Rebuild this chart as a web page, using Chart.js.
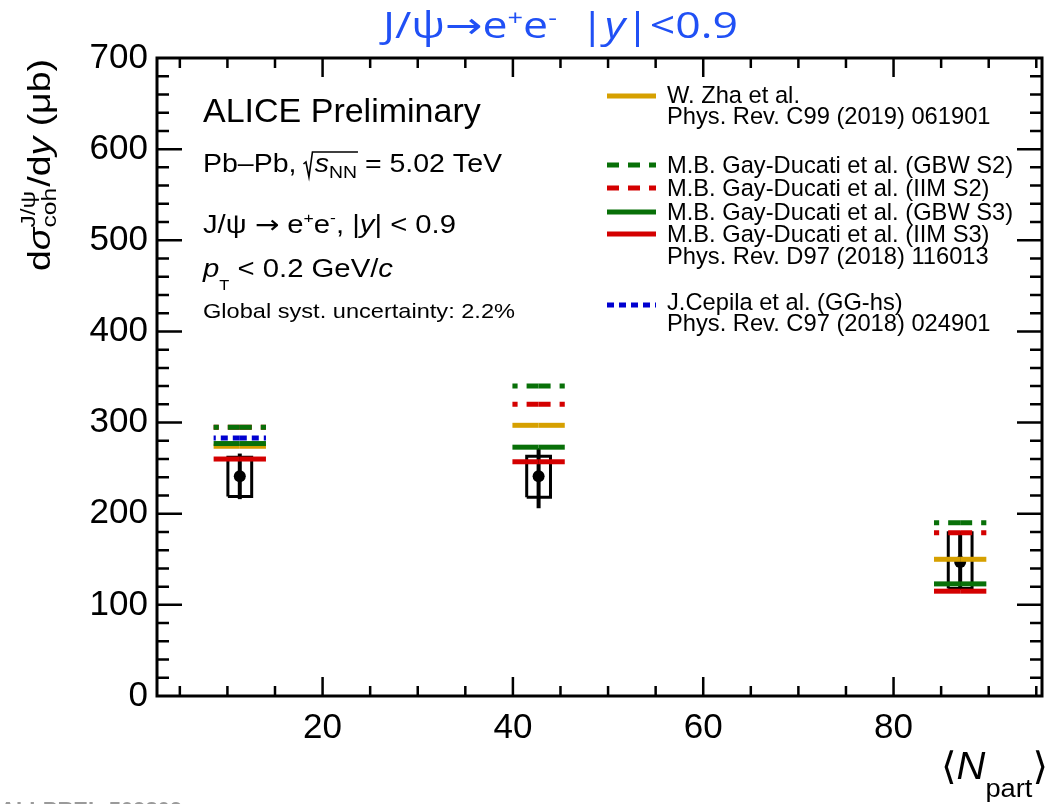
<!DOCTYPE html>
<html>
<head>
<meta charset="utf-8">
<script src="https://cdn.jsdelivr.net/npm/chart.js@4.4.1/dist/chart.umd.min.js"></script>
<style>
  html, body { margin: 0; padding: 0; background: #fff; }
  #wrap { width: 1048px; height: 804px; }
</style>
</head>
<body>
<div id="wrap"><canvas id="chart" width="1048" height="804"></canvas></div>
<script>
// Coherent J/psi cross section vs <Npart>, ALICE Preliminary

// Measured points
const nPart = [11.3, 42.7, 87.0];
const xsec = [241, 241, 147];
const statLo = [216, 206, 118];
const statHi = [266, 272, 179];
const systLo = [219, 218, 118];
const systHi = [262, 263, 179];

// Model predictions (null = not shown)
const zhaModel = [274, 297, 150];
const gbwS2 = [295, 340, 190];
const iimS2 = [295, 320, 179];
const gbwS3 = [277, 273, 123];
const iimS3 = [260, 257, 115];
const ggHs = [283, null, null];

// Axis ticks
const xTicks = [20, 40, 60, 80];
const yTicks = [0, 100, 200, 300, 400, 500, 600, 700];

const FONT = '"Liberation Sans", Arial, Helvetica, sans-serif';
const GOLD = '#d6a000';
const GREEN = '#087008';
const RED = '#d40000';
const BLUE = '#0000d0';
const DASH = [12, 9];
const DOT = [7, 5];

const lineHalf = 2.75;  // half length of model lines, in Npart units
const boxHalf = 1.25;   // half width of syst. boxes

const models = [
    { vals: zhaModel, color: GOLD, dash: [], order: 20 },
    { vals: iimS2, color: RED, dash: DASH, order: 19 },
    { vals: gbwS2, color: GREEN, dash: DASH, order: 18 },
    { vals: iimS3, color: RED, dash: [], order: 17 },
    { vals: gbwS3, color: GREEN, dash: [], order: 16 },
    { vals: ggHs, color: BLUE, dash: DOT, order: 15 }
];

const datasets = [];

// syst boxes + stat bars (drawn below the models)
nPart.forEach((x, i) => {
    datasets.push({
        data: [
            { x: x - boxHalf, y: systLo[i] }, { x: x + boxHalf, y: systLo[i] },
            { x: x + boxHalf, y: systHi[i] }, { x: x - boxHalf, y: systHi[i] },
            { x: x - boxHalf, y: systLo[i] }
        ],
        showLine: true, borderColor: '#000', borderWidth: 3, pointRadius: 0,
        borderJoinStyle: 'miter', order: 40
    });
    datasets.push({
        data: [{ x: x, y: statLo[i] }, { x: x, y: statHi[i] }],
        showLine: true, borderColor: '#000', borderWidth: 4, pointRadius: 0,
        borderCapStyle: 'butt', order: 39
    });
});
datasets.push({
    data: nPart.map((x, i) => ({ x: x, y: xsec[i] })),
    showLine: false, pointRadius: 6, pointBackgroundColor: '#000',
    pointBorderWidth: 0, order: 38
});

// model lines, each drawn as two halves going out from the centre
models.forEach(m => {
    m.vals.forEach((v, i) => {
        if (v === null) return;
        [-1, 1].forEach(side => {
            datasets.push({
                data: [{ x: nPart[i], y: v }, { x: nPart[i] + side * lineHalf, y: v }],
                showLine: true, borderColor: m.color, borderWidth: 5,
                borderDash: m.dash, borderCapStyle: 'butt', pointRadius: 0,
                order: m.order
            });
        });
    });
});

// rich text helper: parts = [{t, s, i, dy}] or stacked {sup, sub, s, up, dn}
function fontOf(p) {
    return (p.b ? 'bold ' : '') + (p.i ? 'italic ' : '') + p.s + 'px ' + (p.f || FONT);
}
function partWidth(ctx, p) {
    ctx.font = fontOf(p);
    if (p.sup !== undefined) {
        return Math.max(ctx.measureText(p.sup).width, ctx.measureText(p.sub).width) + (p.gap || 0);
    }
    return ctx.measureText(p.t).width + (p.gap || 0);
}
function richWidth(ctx, parts) {
    return parts.reduce((w, p) => w + partWidth(ctx, p), 0);
}
function drawRich(ctx, x, y, parts) {
    let cx = x;
    const marks = [];
    parts.forEach(p => {
        const w = partWidth(ctx, p);
        ctx.font = fontOf(p);
        if (p.sup !== undefined) {
            ctx.fillText(p.sup, cx, y + p.up);
            ctx.fillText(p.sub, cx, y + p.dn);
        } else {
            ctx.fillText(p.t, cx, y + (p.dy || 0));
        }
        marks.push(cx);
        cx += w;
    });
    marks.push(cx);
    return marks;
}
// draw a line of rich text stretched to a given width
function drawFit(ctx, x, y, width, parts) {
    const w = richWidth(ctx, parts);
    const k = width / w;
    ctx.save();
    ctx.translate(x, y);
    ctx.scale(k, 1);
    const marks = drawRich(ctx, 0, 0, parts);
    ctx.restore();
    return marks.map(m => x + m * k);
}

const legendLines = [
    { y: 96, color: GOLD, dash: [] },
    { y: 165, color: GREEN, dash: DASH },
    { y: 188, color: RED, dash: DASH },
    { y: 212, color: GREEN, dash: [] },
    { y: 234, color: RED, dash: [] },
    { y: 305, color: BLUE, dash: DOT }
];
const legendTexts = [
    { t: 'W. Zha et al.', y: 103 },
    { t: 'Phys. Rev. C99 (2019) 061901', y: 124 },
    { t: 'M.B. Gay-Ducati et al. (GBW S2)', y: 173 },
    { t: 'M.B. Gay-Ducati et al. (IIM S2)', y: 196 },
    { t: 'M.B. Gay-Ducati et al. (GBW S3)', y: 220 },
    { t: 'M.B. Gay-Ducati et al. (IIM S3)', y: 242 },
    { t: 'Phys. Rev. D97 (2018) 116013', y: 264 },
    { t: 'J.Cepila et al. (GG-hs)', y: 310 },
    { t: 'Phys. Rev. C97 (2018) 024901', y: 331 }
];

const framePlugin = {
    id: 'frame',
    afterDatasetsDraw(chart) {
        const { ctx, chartArea: a, scales: { x, y } } = chart;
        ctx.save();
        ctx.strokeStyle = '#000';
        ctx.lineWidth = 2.5;
        ctx.beginPath();
        for (let v = 5; v < x.max; v += 5) {
            const px = x.getPixelForValue(v);
            const len = v % 20 === 0 ? 19 : 10;
            ctx.moveTo(px, a.bottom); ctx.lineTo(px, a.bottom - len);
            ctx.moveTo(px, a.top); ctx.lineTo(px, a.top + len);
        }
        for (let v = 20; v < y.max; v += 20) {
            const py = y.getPixelForValue(v);
            const len = v % 100 === 0 ? 25 : 12;
            ctx.moveTo(a.left, py); ctx.lineTo(a.left + len, py);
            ctx.moveTo(a.right, py); ctx.lineTo(a.right - len, py);
        }
        ctx.stroke();
        ctx.lineWidth = 3;
        ctx.strokeRect(a.left, a.top, a.right - a.left, a.bottom - a.top);
        ctx.restore();
    }
};

const textPlugin = {
    id: 'texts',
    afterDraw(chart) {
        const ctx = chart.ctx;
        ctx.save();
        ctx.textBaseline = 'alphabetic';
        ctx.textAlign = 'left';

        // title
        ctx.fillStyle = '#2050f5';
        const TF = '"Open Sans", "Noto Sans", sans-serif';
        drawFit(ctx, 383, 38, 355, [
            { t: 'J/ψ', s: 36, f: TF },
            { t: '→', s: 36, f: '"DejaVu Sans", sans-serif' },
            { t: 'e', s: 36, f: TF },
            { t: '+', s: 22, f: TF, dy: -13 },
            { t: 'e', s: 36, f: TF },
            { t: '-', s: 22, f: TF, dy: -13 },
            { t: '  |', s: 36, f: TF },
            { t: 'y', s: 36, f: TF, i: true },
            { t: '|<0.9', s: 36, f: TF }
        ]);

        ctx.fillStyle = '#000';

        // y axis title
        const ylab = [
            { t: 'd', s: 32 },
            { t: 'σ', s: 32, i: true },
            { sup: 'J/ψ', sub: 'coh', s: 21, up: -15, dn: 6, gap: 1 },
            { t: '/d', s: 32 },
            { t: 'y', s: 32, i: true },
            { t: ' (μb)', s: 32 }
        ];
        const yw = richWidth(ctx, ylab);
        ctx.save();
        ctx.translate(50, 165);
        ctx.rotate(-Math.PI / 2);
        ctx.scale(212 / yw, 1);
        drawRich(ctx, -yw / 2, 0, ylab);
        ctx.restore();

        // x axis title
        drawFit(ctx, 941, 779, 107, [
            { t: '⟨', s: 38, f: '"DejaVu Sans", sans-serif' },
            { t: 'N', s: 38, i: true },
            { t: 'part', s: 26, dy: 18 },
            { t: '⟩', s: 38, f: '"DejaVu Sans", sans-serif' }
        ]);

        // ALICE labels
        drawRich(ctx, 203, 122, [{ t: 'ALICE Preliminary', s: 34 }]);
        const m = drawFit(ctx, 203, 172, 299, [
            { t: 'Pb–Pb, ', s: 25 },
            { t: '', s: 25, gap: 9 },
            { t: 's', s: 25, i: true },
            { t: 'NN', s: 17, dy: 6 },
            { t: ' = 5.02 TeV', s: 25 }
        ]);
        // radical sign over s_NN
        const rx = m[1];
        ctx.strokeStyle = '#000';
        ctx.lineWidth = 1.6;
        ctx.beginPath();
        ctx.moveTo(rx - 1, 164);
        ctx.lineTo(rx + 1.5, 162);
        ctx.lineTo(rx + 4.5, 177);
        ctx.lineTo(rx + 8, 152);
        ctx.lineTo(m[4] + 1, 152);
        ctx.stroke();

        drawFit(ctx, 203, 233, 253, [
            { t: 'J/ψ ', s: 25 },
            { t: '→', s: 25, f: '"DejaVu Sans", sans-serif' },
            { t: ' e', s: 25 },
            { t: '+', s: 15, dy: -10 },
            { t: 'e', s: 25 },
            { t: '-', s: 15, dy: -10 },
            { t: ', |', s: 25 },
            { t: 'y', s: 25, i: true },
            { t: '| < 0.9', s: 25 }
        ]);
        drawFit(ctx, 203, 277, 190, [
            { t: 'p', s: 25, i: true },
            { t: 'T', s: 14, dy: 13 },
            { t: ' < 0.2 GeV/', s: 25 },
            { t: 'c', s: 25, i: true }
        ]);
        drawFit(ctx, 203, 318, 312, [{ t: 'Global syst. uncertainty: 2.2%', s: 21 }]);

        // legend
        ctx.lineCap = 'butt';
        legendLines.forEach(l => {
            ctx.strokeStyle = l.color;
            ctx.lineWidth = 5;
            ctx.setLineDash(l.dash);
            ctx.beginPath();
            ctx.moveTo(607, l.y);
            ctx.lineTo(656, l.y);
            ctx.stroke();
        });
        ctx.setLineDash([]);
        ctx.font = '23.7px ' + FONT;
        legendTexts.forEach(l => ctx.fillText(l.t, 667, l.y));

        // preliminary figure id, cut at the bottom
        ctx.fillStyle = '#9a9a9a';
        ctx.font = 'bold 22px ' + FONT;
        ctx.textBaseline = 'top';
        ctx.fillText('ALI-PREL-509809', 0, 800);
        ctx.restore();
    }
};

new Chart(document.getElementById('chart'), {
    type: 'scatter',
    data: { datasets: datasets },
    options: {
        responsive: false,
        animation: false,
        devicePixelRatio: 1,
        layout: { padding: { top: 58, right: 3, left: 0, bottom: 0 } },
        plugins: { legend: { display: false }, tooltip: { enabled: false } },
        scales: {
            x: {
                type: 'linear', min: 2.6, max: 95.6,
                grid: { display: false }, border: { display: false },
                ticks: { color: '#000', font: { family: FONT, size: 35 }, padding: 3, maxRotation: 0 },
                afterBuildTicks: s => { s.ticks = xTicks.map(v => ({ value: v })); },
                afterFit: s => { s.height = 108; }
            },
            y: {
                type: 'linear', min: 0, max: 700,
                grid: { display: false }, border: { display: false },
                ticks: { color: '#000', font: { family: FONT, size: 35 }, padding: 1 },
                afterBuildTicks: s => { s.ticks = yTicks.map(v => ({ value: v })); },
                afterFit: s => { s.width = 157; }
            }
        }
    },
    plugins: [framePlugin, textPlugin]
});
</script>
</body>
</html>
